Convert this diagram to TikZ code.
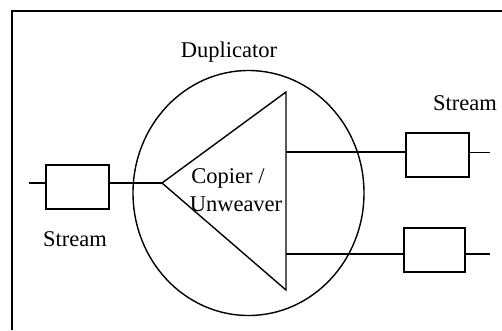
\documentclass[tikz,border=0pt]{standalone}
\usepackage{fontspec}
\setmainfont{Liberation Serif}
\usetikzlibrary{shapes.geometric}
\begin{document}
\begin{tikzpicture}[x=1pt,y=-1pt,line width=1.4pt,
  box/.style={draw, minimum width=63pt, minimum height=44pt, inner sep=0pt},
  lbl/.style={font=\fontsize{22.5}{26}\selectfont, inner sep=0pt, anchor=base},
  frame/.style={line width=2.4pt}]
\useasboundingbox (0,0) rectangle (502,330);
% frame
\coordinate (fb) at (12,330);
\coordinate (fc) at (12,11);
\coordinate (fr) at (502,11);
\draw[frame] (fb) -- (fc) -- (fr);
% duplicator circle
\node[draw, ellipse, minimum width=231pt, minimum height=245pt, inner sep=0pt] (dup) at (248.5,193) {};
% triangle
\coordinate (apex) at (162,183);
\coordinate (tr) at (286,92);
\coordinate (br) at (286,290);
\draw (apex) -- (tr) -- (br) -- cycle;
% boxes
\node[box] (in) at (77.5,187) {};
\node[box] (out1) at (437.5,155) {};
\node[box, minimum width=61pt] (out2) at (434.5,250) {};
% connectors
\coordinate (inStart) at (29,183);
\coordinate (o1) at (286,152);
\coordinate (o2) at (286,254);
\coordinate (e1) at (490,152);
\coordinate (e2) at (490,254);
\draw (inStart) -- (in.west |- inStart);
\draw (in.east |- apex) -- (apex);
\draw (o1) -- (out1.west |- o1);
\draw[line width=0.9pt] (out1.east |- o1) -- (e1);
\draw (o2) -- (out2.west |- o2);
\draw (out2.east |- o2) -- (e2);
% labels
\node[lbl] (tdup) at (229,57) {Duplicator};
\node[lbl] (ts1) at (465,110) {Stream};
\node[lbl] (ts2) at (75,246) {Stream};
\node[lbl] (tcop) at (228,183) {Copier /};
\node[lbl] (tunw) at (236,211) {Unweaver};
\end{tikzpicture}
\end{document}
